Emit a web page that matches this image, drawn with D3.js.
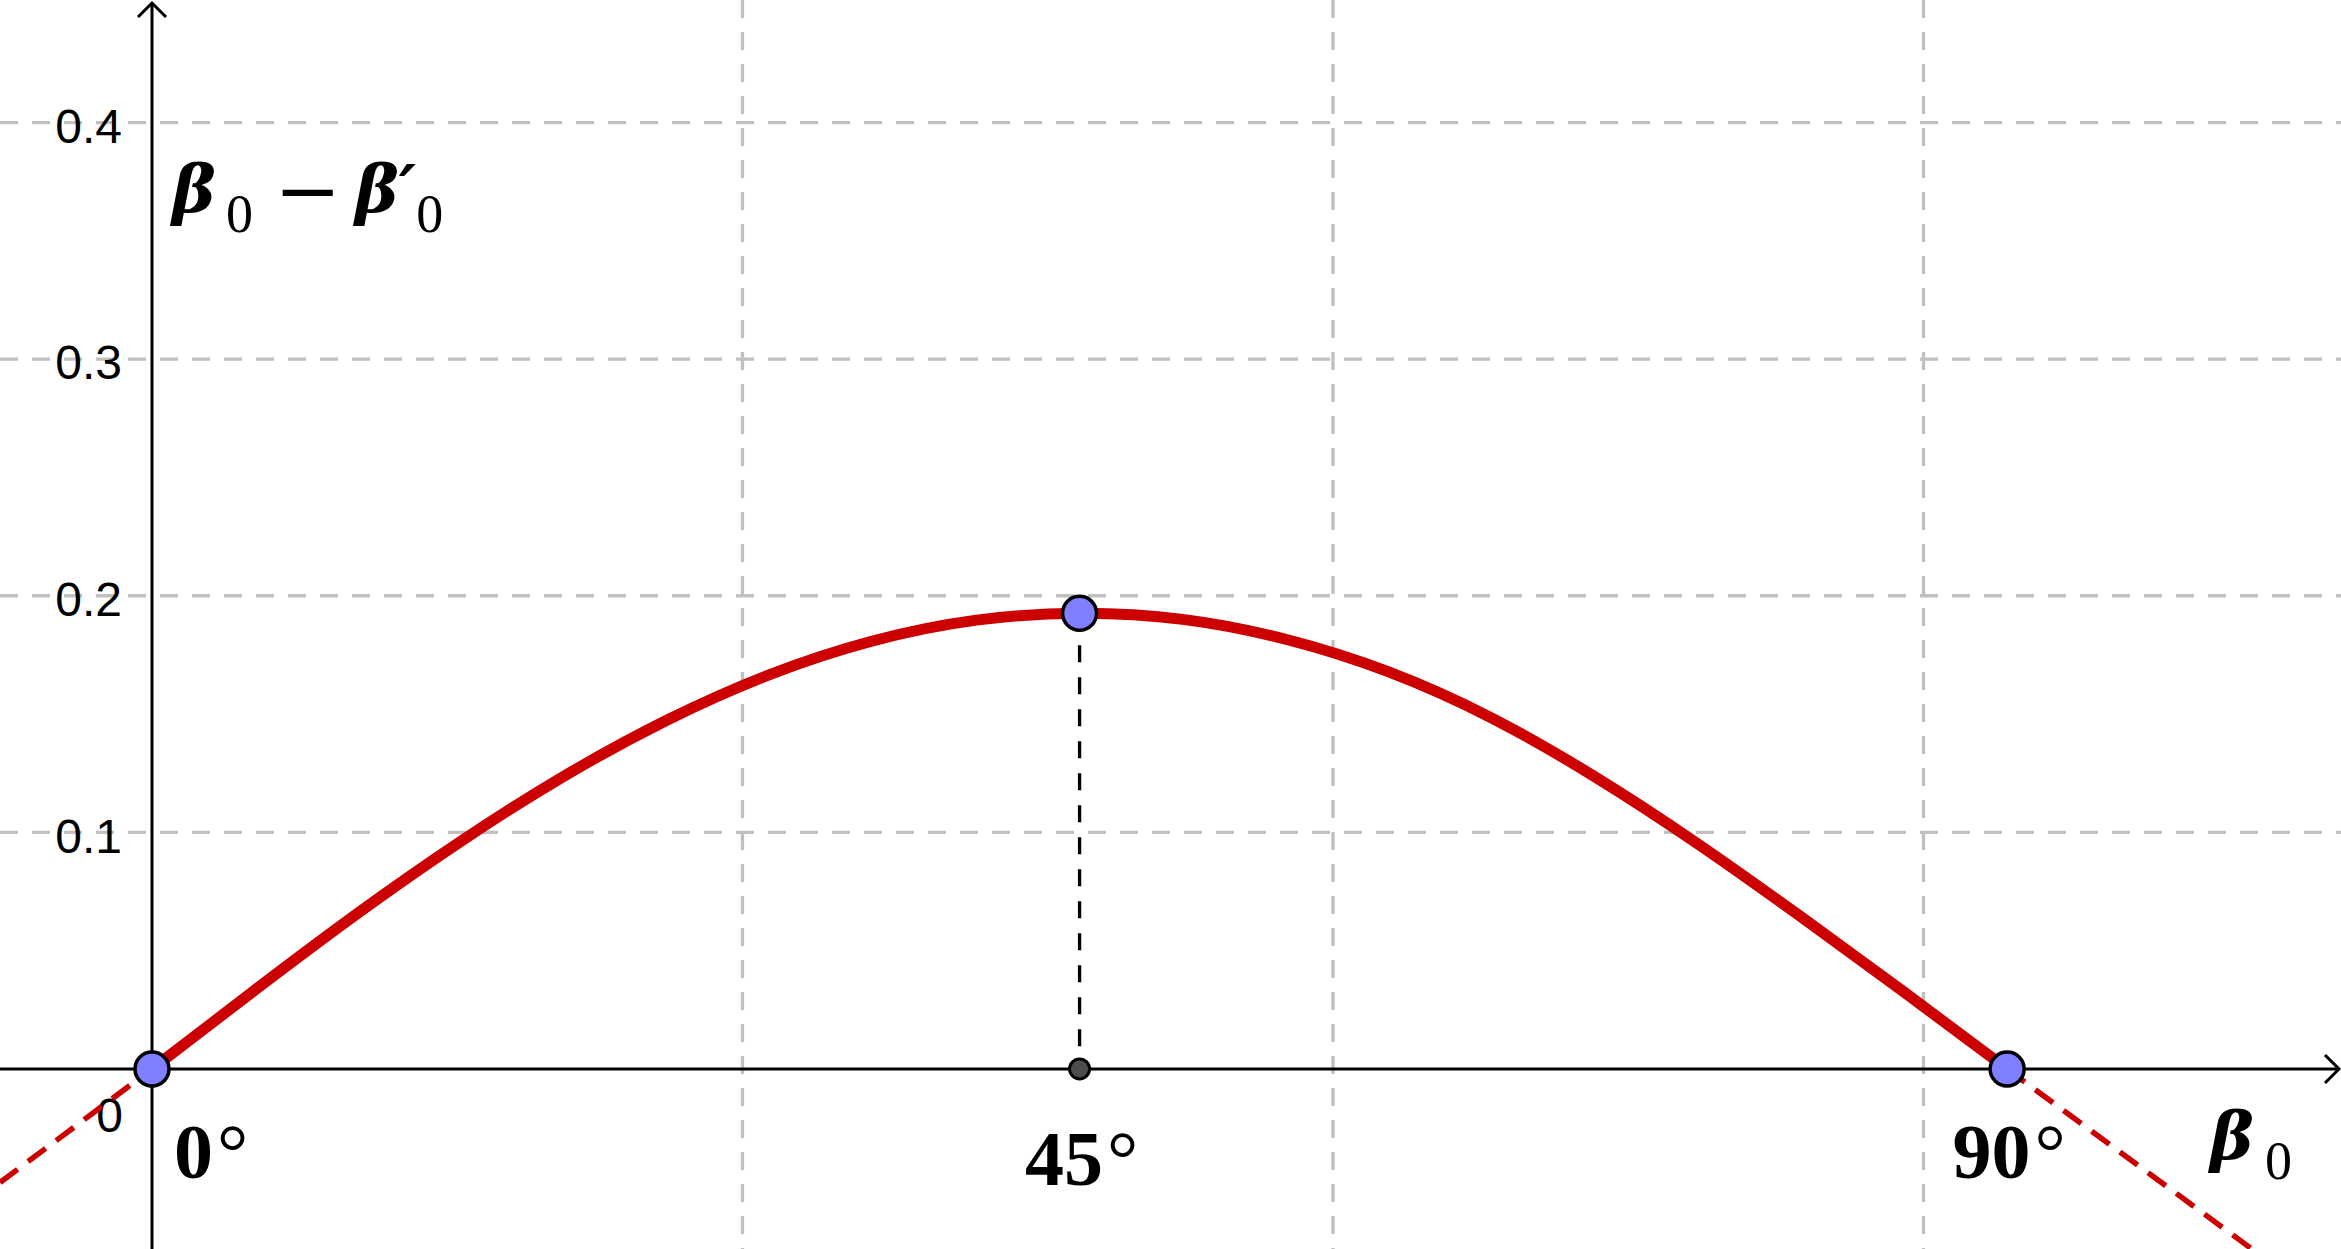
<!DOCTYPE html>
<html>
<head>
<meta charset="utf-8">
<script src="https://cdn.jsdelivr.net/npm/d3@7"></script>
<style>
    html, body { margin: 0; padding: 0; background: #fff; }
    svg { display: block; }
</style>
</head>
<body>
<div id="chart"></div>
<script>

// values every 5 degrees (beta0 in radians, difference in radians)
var betaRad = [0, 0.0873, 0.1745, 0.2618, 0.3491, 0.4363, 0.5236, 0.6109, 0.6981, 0.7854,
               0.8727, 0.9599, 1.0472, 1.1345, 1.2217, 1.3090, 1.3963, 1.4835, 1.5708];
var diffVal = [0, 0.0334, 0.0659, 0.0963, 0.1238, 0.1475, 0.1668, 0.1810, 0.1897, 0.1926,
               0.1900, 0.1816, 0.1678, 0.1483, 0.1235, 0.0951, 0.0643, 0.0325, 0];

// dashed continuation outside 0..90 deg
var leftExtBeta = [-0.1287, 0];
var leftExtVal = [-0.048, 0];
var rightExtBeta = [1.5708, 1.778];
var rightExtVal = [0, -0.0761];

// marked points
var keyBeta = [0, 0.7854, 1.5708];
var keyVal = [0, 0.1926, 0];
var keyLabels = ["0", "45", "90"];

var xGrid = [0.5, 1.0, 1.5];
var yTicks = [0.1, 0.2, 0.3, 0.4];

var width = 2341, height = 1249;

var svg = d3.select("#chart").append("svg")
    .attr("width", width)
    .attr("height", height);

var x = d3.scaleLinear().domain([-0.1287, 1.8535]).range([0, width]);
var y = d3.scaleLinear().domain([-0.0761, 0.4518]).range([height, 0]);

var x0 = x(0), y0 = y(0);

// grid
var grid = svg.append("g")
    .attr("stroke", "#c0c0c0")
    .attr("stroke-width", 3.3)
    .attr("stroke-dasharray", "18,14");

grid.selectAll(".hgrid").data(yTicks).enter().append("line")
    .attr("x1", 0).attr("x2", width)
    .attr("y1", function(d){ return y(d); })
    .attr("y2", function(d){ return y(d); });

grid.selectAll(".vgrid").data(xGrid).enter().append("line")
    .attr("x1", function(d){ return x(d); })
    .attr("x2", function(d){ return x(d); })
    .attr("y1", 0).attr("y2", height);

// axes
var axes = svg.append("g").attr("stroke", "#000").attr("stroke-width", 3).attr("fill", "none");
axes.append("line").attr("x1", 0).attr("x2", width - 2).attr("y1", y0).attr("y2", y0);
axes.append("path").attr("d", "M" + (width - 16) + "," + (y0 - 14) + "L" + (width - 2) + "," + y0 + "L" + (width - 16) + "," + (y0 + 14));
axes.append("line").attr("x1", x0).attr("x2", x0).attr("y1", 3).attr("y2", height);
axes.append("path").attr("d", "M" + (x0 - 14) + ",17L" + x0 + ",3L" + (x0 + 14) + ",17");

// y tick labels
var yAxis = d3.axisLeft(y).tickValues(yTicks).tickSize(0).tickPadding(30).tickFormat(d3.format(".1f"));
var gy = svg.append("g").attr("transform", "translate(" + x0 + ",0)").call(yAxis);
gy.select(".domain").remove();
gy.selectAll("text")
    .attr("dy", "0.41em")
    .style("font-family", "'Liberation Sans', Arial, sans-serif")
    .style("font-size", "48px")
    .style("fill", "#000");

svg.append("text")
    .attr("x", x0 - 29).attr("y", y0 + 63)
    .attr("text-anchor", "end")
    .style("font-family", "'Liberation Sans', Arial, sans-serif")
    .style("font-size", "48px")
    .text("0");

// curve
var line = d3.line()
    .x(function(d){ return x(d[0]); })
    .y(function(d){ return y(d[1]); });

svg.selectAll(".ext").data([d3.zip(leftExtBeta, leftExtVal), d3.zip(rightExtBeta, rightExtVal)])
    .enter().append("path")
    .attr("d", line)
    .attr("fill", "none").attr("stroke", "#cc0000").attr("stroke-width", 5.5)
    .attr("stroke-dasharray", "22,13");

svg.append("path")
    .datum(d3.zip(betaRad, diffVal))
    .attr("d", line.curve(d3.curveNatural))
    .attr("fill", "none")
    .attr("stroke", "#cc0000")
    .attr("stroke-width", 11);

// drop line from the maximum
var peak = d3.zip(keyBeta, keyVal)[1];
svg.append("line")
    .attr("x1", x(peak[0])).attr("x2", x(peak[0]))
    .attr("y1", y(peak[1])).attr("y2", y0)
    .attr("stroke", "#000").attr("stroke-width", 3.3)
    .attr("stroke-dasharray", "17,15");

svg.append("circle")
    .attr("cx", x(peak[0])).attr("cy", y0).attr("r", 10)
    .attr("fill", "#4d4d4d").attr("stroke", "#000").attr("stroke-width", 3);

svg.selectAll(".pt").data(d3.zip(keyBeta, keyVal)).enter().append("circle")
    .attr("cx", function(d){ return x(d[0]); })
    .attr("cy", function(d){ return y(d[1]); })
    .attr("r", 17)
    .attr("fill", "#7f7fff")
    .attr("stroke", "#000")
    .attr("stroke-width", 3.5);

// degree labels under the points
var serif = "'Liberation Serif', 'Times New Roman', serif";
var greek = "'DejaVu Serif', serif";
var deg = svg.selectAll(".deg").data(keyBeta).enter().append("text")
    .attr("x", function(d, i){ return x(d) + (i == 0 ? 59 : 2); })
    .attr("y", function(d, i){ return y0 + (i == 1 ? 116 : 109); })
    .attr("text-anchor", "middle")
    .style("font-family", serif)
    .style("font-size", "78px");
deg.append("tspan").style("font-weight", "bold").text(function(d, i){ return keyLabels[i]; });
deg.append("tspan").attr("dx", 4).style("font-weight", "normal").text("°");

// axis titles, each piece its own text
function mathText(px, py, str, size, font, bold, italic) {
    return svg.append("text")
        .attr("x", px).attr("y", py)
        .style("font-family", font)
        .style("font-size", size + "px")
        .style("font-weight", bold ? "bold" : "normal")
        .style("font-style", italic ? "italic" : "normal")
        .text(str);
}

mathText(172, 212, "β", 66, greek, true, true);
mathText(226, 232, "0", 54, serif, false, false);
mathText(274, 218, "−", 80, greek, false, false);
// beta with its prime kept in one text so the prime sits on the letter
var bp = mathText(355, 212, "β′", 66, greek, true, true);
var bpLen = bp.node().getComputedTextLength();
mathText(Math.max(408, 355 + bpLen), 232, "0", 54, serif, false, false);

mathText(2210, 1159, "β", 66, greek, true, true);
mathText(2265, 1179, "0", 54, serif, false, false);

</script>
</body>
</html>
